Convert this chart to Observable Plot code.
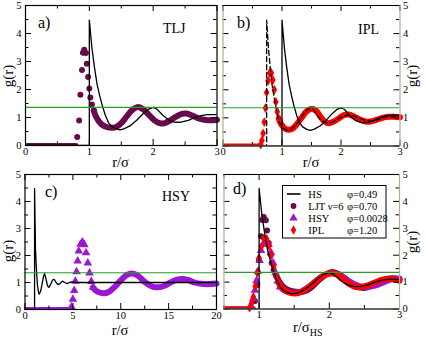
<!DOCTYPE html>
<html><head><meta charset="utf-8">
<script src="https://cdn.jsdelivr.net/npm/d3@7"></script>
<script src="https://cdn.jsdelivr.net/npm/@observablehq/plot@0.6"></script>
<style>
body{margin:0;background:#fff;}
#wrap{position:relative;width:425px;height:337px;overflow:hidden;background:#fff;}
#wrap svg{position:absolute;left:0;top:0;}
#wrap svg text{font-family:'Liberation Serif','Times New Roman',serif !important;}
</style></head><body><div id="wrap"></div>
<script>
// ---------- data ----------
const yDomain = [0, 5];
const yMajor = [0, 1, 2, 3, 4, 5];
const yMinor = [0.5, 1.5, 2.5, 3.5, 4.5];
const greenLevel = [1.36];

// hard spheres (HS), r/sigma
const hsR = [0, 1, 1, 1.04, 1.08, 1.12, 1.16, 1.2, 1.25, 1.3, 1.35, 1.42, 1.48, 1.55, 1.65, 1.75, 1.85, 1.93, 2.0, 2.06, 2.15, 2.25, 2.35, 2.45, 2.55, 2.65, 2.75, 2.85, 3.0];
const hsG = [0, 0, 4.48, 3.5, 2.8, 2.2, 1.8, 1.45, 1.08, 0.82, 0.68, 0.59, 0.56, 0.6, 0.72, 0.92, 1.15, 1.3, 1.36, 1.3, 1.08, 0.9, 0.83, 0.84, 0.9, 1.0, 1.07, 1.1, 1.1];

// panel a: LJT
const ljtZeroR = [0, 0.79];
const zeroG = [0, 0];
const ljtDotR = [0.81, 0.84, 0.86, 0.885, 0.90, 0.92, 0.945, 0.96, 0.98, 1.0, 1.016, 1.04, 1.07];
const ljtDotG = [0.30, 0.89, 1.81, 2.70, 3.31, 3.42, 3.30, 2.92, 2.45, 2.04, 1.71, 1.46, 1.25];
const ljtBandR = [1.07, 1.1, 1.15, 1.2, 1.27, 1.35, 1.42, 1.5, 1.58, 1.66, 1.75, 1.84, 1.93, 2.02, 2.1, 2.17, 2.25, 2.35, 2.45, 2.52, 2.6, 2.7, 2.8, 2.9, 3.0];
const ljtBandG = [1.25, 1.05, 0.86, 0.74, 0.66, 0.63, 0.66, 0.8, 1.02, 1.24, 1.37, 1.3, 1.1, 0.9, 0.8, 0.79, 0.87, 1.02, 1.13, 1.14, 1.08, 0.98, 0.92, 0.9, 0.92];

// panel b: IPL
const iplZeroR = [0, 0.63];
const iplDotR = [0.64, 0.66, 0.68, 0.70, 0.72, 0.74, 0.765, 0.79, 0.82, 0.845, 0.87, 0.895, 0.92, 0.945];
const iplDotG = [0.05, 0.2, 0.45, 0.85, 1.35, 1.9, 2.32, 2.6, 2.6, 2.35, 2.0, 1.57, 1.22, 0.98];
const iplBandR = [0.945, 0.98, 1.02, 1.07, 1.12, 1.18, 1.25, 1.33, 1.42, 1.51, 1.58, 1.66, 1.73, 1.79, 1.87, 1.96, 2.05, 2.13, 2.22, 2.32, 2.42, 2.5, 2.6, 2.7, 2.8, 2.9, 3.0];
const iplBandG = [0.98, 0.8, 0.68, 0.6, 0.58, 0.62, 0.77, 1.0, 1.24, 1.33, 1.25, 1.02, 0.86, 0.81, 0.86, 0.98, 1.1, 1.12, 1.05, 0.94, 0.87, 0.87, 0.93, 1.0, 1.04, 1.04, 1.02];
const dashR = [0, 0.74, 0.74, 0.77, 0.8, 0.83, 0.86, 0.89, 0.925, 0.96, 1.0, 1.05, 1.1, 1.15, 1.22, 1.3, 1.37, 1.43, 1.49, 1.53, 1.6, 1.67, 1.74, 1.81, 1.89, 1.96, 2.04, 2.12, 2.2, 2.3, 2.4, 2.5, 2.6, 2.7, 2.8, 2.9, 3.0];
const dashG = [0, 0, 4.48, 3.5, 2.8, 2.2, 1.8, 1.45, 1.08, 0.82, 0.68, 0.59, 0.56, 0.6, 0.72, 0.92, 1.15, 1.3, 1.35, 1.3, 1.08, 0.9, 0.83, 0.82, 0.88, 0.98, 1.07, 1.1, 1.08, 1.0, 0.92, 0.88, 0.92, 1.0, 1.05, 1.04, 1.02];

// panel c: HSY
const hsCR = [0, 1, 1, 1.1, 1.2, 1.3, 1.42, 1.5, 1.65, 1.8, 1.95, 2.05, 2.2, 2.35, 2.5, 2.7, 2.9, 3.05, 3.25, 3.45, 3.65, 3.9, 4.15, 4.4, 4.65, 4.9, 5.2, 20];
const hsCG = [0, 0, 4.48, 2.2, 1.45, 0.9, 0.62, 0.57, 0.7, 0.98, 1.25, 1.33, 1.12, 0.88, 0.82, 0.95, 1.1, 1.12, 1.0, 0.92, 0.96, 1.05, 1.0, 0.96, 1.0, 1.02, 1.0, 1.0];
const hsyZeroR = [0, 4.8];
const hsyDotR = [4.85, 5.0, 5.14, 5.26, 5.38, 5.5, 5.62, 5.8, 6.0, 6.2, 6.38, 6.56, 6.74, 6.92, 7.1];
const hsyDotG = [0.1, 0.38, 0.7, 1.05, 1.4, 1.8, 2.17, 2.42, 2.5, 2.4, 2.1, 1.72, 1.35, 1.04, 0.82];
const hsyBandR = [7.1, 7.4, 7.8, 8.3, 8.8, 9.4, 10.0, 10.6, 11.2, 11.8, 12.5, 13.2, 13.8, 14.5, 15.2, 15.8, 16.4, 17.0, 17.7, 18.4, 19.2, 20];
const hsyBandG = [0.82, 0.7, 0.63, 0.6, 0.66, 0.85, 1.08, 1.27, 1.33, 1.25, 1.02, 0.86, 0.82, 0.87, 1.0, 1.1, 1.13, 1.1, 1.0, 0.95, 0.94, 0.96];

// panel d: all in r/sigma_HS
const ljtDZeroR = [0.5, 0.92];
const ljtDDotR = [0.94, 0.974, 0.998, 1.027, 1.044, 1.067, 1.096, 1.114, 1.137, 1.16, 1.179, 1.206, 1.241];
const ljtDDotG = [0.30, 0.89, 1.81, 2.70, 3.31, 3.42, 3.30, 2.92, 2.45, 2.04, 1.71, 1.46, 1.25];
const ljtDBandR = [1.241, 1.28, 1.33, 1.39, 1.47, 1.57, 1.65, 1.74, 1.83, 1.93, 2.03, 2.13, 2.24, 2.34, 2.44, 2.52, 2.61, 2.73, 2.84, 2.92, 3.0];
const ljtDBandG = [1.25, 1.05, 0.86, 0.74, 0.66, 0.63, 0.66, 0.8, 1.02, 1.24, 1.37, 1.3, 1.1, 0.9, 0.8, 0.79, 0.87, 1.02, 1.13, 1.14, 1.08];
const hsyDZeroR = [0.5, 0.87];
const hsyDDotR = [0.888, 0.915, 0.941, 0.963, 0.985, 1.007, 1.028, 1.061, 1.098, 1.135, 1.168, 1.2, 1.233, 1.266, 1.3];
const hsyDDotG = [0.1, 0.38, 0.7, 1.05, 1.4, 1.8, 2.17, 2.42, 2.5, 2.4, 2.1, 1.72, 1.35, 1.04, 0.82];
const hsyDBandR = [1.3, 1.354, 1.427, 1.519, 1.61, 1.72, 1.83, 1.94, 2.05, 2.16, 2.29, 2.42, 2.53, 2.65, 2.78, 2.89, 3.0];
const hsyDBandG = [0.82, 0.7, 0.63, 0.6, 0.66, 0.85, 1.08, 1.27, 1.33, 1.25, 1.02, 0.86, 0.82, 0.87, 1.0, 1.1, 1.13];
const iplDZeroR = [0.5, 0.85];
const iplDDotR = [0.864, 0.891, 0.918, 0.945, 0.972, 0.999, 1.033, 1.067, 1.107, 1.141, 1.175, 1.208, 1.242, 1.276];
const iplDDotG = [0.05, 0.2, 0.45, 0.85, 1.35, 1.9, 2.32, 2.6, 2.6, 2.35, 2.0, 1.57, 1.22, 0.98];
const iplDBandR = [1.276, 1.323, 1.377, 1.445, 1.512, 1.593, 1.688, 1.796, 1.917, 2.039, 2.133, 2.241, 2.336, 2.417, 2.525, 2.646, 2.768, 2.876, 3.0];
const iplDBandG = [0.98, 0.8, 0.68, 0.6, 0.58, 0.62, 0.77, 1.0, 1.24, 1.33, 1.25, 1.02, 0.86, 0.81, 0.86, 0.98, 1.1, 1.12, 1.05];

// tick labels
const xTicksA = [0, 1, 2, 3];
const xMinorA = [0.5, 1.5, 2.5];
const xTicksC = [0, 5, 10, 15, 20];
const xMinorC = [2.5, 7.5, 12.5, 17.5];
const xTicksD = [1, 2, 3];
const xMinorD = [0.5, 1.5, 2.5];

// legend
const legendNames = ["HS", "LJT \u03bd=6", "HSY", "IPL"];
const legendPhi = ["\u03c6=0.49", "\u03c6=0.70", "\u03c6=0.0028", "\u03c6=1.20"];

// ---------- drawing ----------
const SERIF = "'Liberation Serif','Times New Roman',serif";
const GREEN = "#22a022", MAROON = "#690a4c", VIOLET = "#9a18d4", RED = "#ff0000", OLIVE = "#b2ad8e";
const wrap = document.getElementById("wrap");
const pts = (rs, gs) => rs.map((r, i) => ({r, g: gs[i]}));
const BAND = 6;

function zeroBand(rs, color) {
  return Plot.line(pts(rs, zeroG), {x: "r", y: "g", stroke: color, strokeWidth: BAND - 1, clip: true});
}
function band(rs, gs, color) {
  return Plot.line(pts(rs, gs), {x: "r", y: "g", stroke: color, strokeWidth: BAND, curve: "catmull-rom", strokeLinecap: "round"});
}
function dots(rs, gs, color, symbol, r) {
  return Plot.dot(pts(rs, gs), {x: "r", y: "g", fill: color, stroke: "none", symbol, r});
}
function blackLine(rs, gs, extra = {}) {
  return Plot.line(pts(rs, gs), {x: "r", y: "g", stroke: "black", strokeWidth: 1.3, clip: true, ...extra});
}

function makePanel(cfg) {
  const W = cfg.right - cfg.left, H = cfg.bottom - cfg.top;
  const MJ = 6, MN = 3.5;
  const marks = [
    ...cfg.marks,
    Plot.ruleY(greenLevel, {y: d => d, stroke: GREEN, strokeWidth: 1.1}),
    Plot.tickX(cfg.xMajor, {x: d => d, insetTop: H - MJ, stroke: "black"}),
    Plot.tickX(cfg.xMajor, {x: d => d, insetBottom: H - MJ, stroke: "black"}),
    Plot.tickX(cfg.xMinor, {x: d => d, insetTop: H - MN, stroke: "black"}),
    Plot.tickX(cfg.xMinor, {x: d => d, insetBottom: H - MN, stroke: "black"}),
    Plot.tickY(yMajor, {y: d => d, insetRight: W - MJ, stroke: "black"}),
    Plot.tickY(yMajor, {y: d => d, insetLeft: W - MJ, stroke: "black"}),
    Plot.tickY(yMinor, {y: d => d, insetRight: W - MN, stroke: "black"}),
    Plot.tickY(yMinor, {y: d => d, insetLeft: W - MN, stroke: "black"}),
    Plot.frame({stroke: cfg.olive ? OLIVE : "black", strokeWidth: 1.2}),
    Plot.ruleY(yDomain, {y: d => d, stroke: "black", strokeWidth: 1.2}),
    Plot.axisX({ticks: cfg.xMajor, tickSize: 0, tickPadding: 2, tickFormat: d => String(d), label: null, fontFamily: SERIF, fontSize: 10.5}),
    Plot.axisY({anchor: cfg.ySide, ticks: yMajor, tickSize: 0, tickPadding: cfg.ySide === "left" ? 4 : 3, tickFormat: d => String(d), label: null, fontFamily: SERIF, fontSize: 10.5})
  ];
  const svg = Plot.plot({
    width: 425, height: 337,
    marginLeft: cfg.left, marginRight: 425 - cfg.right,
    marginTop: cfg.top, marginBottom: 337 - cfg.bottom,
    x: {domain: cfg.xDomain},
    y: {domain: yDomain},
    style: {background: "transparent", overflow: "visible", fontFamily: SERIF, fontSize: "10.5px", color: "black"},
    marks
  });
  svg.setAttribute("font-family", SERIF);
  wrap.appendChild(svg);
  return d3.select(svg);
}

function txt(sel, x, y, s, size, opts = {}) {
  const t = sel.append("text").attr("x", x).attr("y", y)
    .attr("font-family", SERIF).attr("font-size", size).attr("fill", "black")
    .attr("text-anchor", opts.anchor || "start");
  if (opts.rotate) t.attr("transform", `rotate(-90 ${x} ${y})`);
  t.text(s);
  return t;
}

// Panel a
const A = makePanel({
  left: 25, right: 216.5, top: 5, bottom: 145, xDomain: [0, 3], xMajor: xTicksA, xMinor: xMinorA, ySide: "left",
  marks: [
    zeroBand(ljtZeroR, MAROON),
    dots(ljtDotR, ljtDotG, MAROON, "circle", 3),
    band(ljtBandR, ljtBandG, MAROON),
    blackLine(hsR, hsG)
  ]
});
txt(A, 38, 28, "a)", 16);
txt(A, 163, 33, "TLJ", 14);
txt(A, 120.5, 166.5, "r/\u03c3", 14.5, {anchor: "middle"});
txt(A, 13, 76, "g(r)", 15, {anchor: "middle", rotate: true});

// Panel b
const B = makePanel({
  left: 222.5, right: 399.5, top: 5, bottom: 145.5, xDomain: [0, 3], xMajor: xTicksA, xMinor: xMinorA, ySide: "right", olive: true,
  marks: [
    zeroBand(iplZeroR, RED),
    dots(iplDotR, iplDotG, RED, "diamond", 3),
    band(iplBandR, iplBandG, RED),
    blackLine(hsR, hsG),
    blackLine(dashR, dashG, {strokeDasharray: "5,3"})
  ]
});
txt(B, 237, 28, "b)", 16);
txt(B, 358, 34, "IPL", 14);
txt(B, 311, 166.5, "r/\u03c3", 14.5, {anchor: "middle"});
txt(B, 417, 76, "g(r)", 15, {anchor: "middle", rotate: true});

// Panel c
const C = makePanel({
  left: 24.5, right: 216, top: 174, bottom: 309, xDomain: [0, 20], xMajor: xTicksC, xMinor: xMinorC, ySide: "left",
  marks: [
    zeroBand(hsyZeroR, VIOLET),
    dots(hsyDotR, hsyDotG, VIOLET, "triangle", 3.2),
    band(hsyBandR, hsyBandG, VIOLET),
    blackLine(hsCR, hsCG)
  ]
});
txt(C, 45, 197, "c)", 16);
txt(C, 162, 201, "HSY", 14);
txt(C, 120, 334.5, "r/\u03c3", 14.5, {anchor: "middle"});
txt(C, 13, 251, "g(r)", 15, {anchor: "middle", rotate: true});

// Panel d
const D = makePanel({
  left: 223.5, right: 399, top: 174, bottom: 308.5, xDomain: [0.5, 3], xMajor: xTicksD, xMinor: xMinorD, ySide: "right", olive: true,
  marks: [
    zeroBand(ljtDZeroR, MAROON),
    zeroBand(hsyDZeroR, VIOLET),
    zeroBand(iplDZeroR, RED),
    dots(ljtDDotR, ljtDDotG, MAROON, "circle", 3),
    band(ljtDBandR, ljtDBandG, MAROON),
    dots(hsyDDotR, hsyDDotG, VIOLET, "triangle", 3.2),
    band(hsyDBandR, hsyDBandG, VIOLET),
    dots(iplDDotR, iplDDotG, RED, "diamond", 3),
    band(iplDBandR, iplDBandG, RED),
    blackLine(hsR, hsG)
  ]
});
txt(D, 233, 194, "d)", 16);
const dl = txt(D, 293, 332, "r/\u03c3", 14.5);
dl.append("tspan").attr("font-size", 10).attr("dy", 3.5).text("HS");
txt(D, 417, 242, "g(r)", 15, {anchor: "middle", rotate: true});

// Legend (panel d)
const lg = d3.select(wrap).append("svg").attr("width", 425).attr("height", 337);
lg.append("rect").attr("x", 282.5).attr("y", 185.5).attr("width", 103.5).attr("height", 52.5)
  .attr("fill", "white").attr("stroke", "black").attr("stroke-width", 1);
const legColors = ["black", MAROON, VIOLET, RED];
const legSymbols = [null, d3.symbolCircle, d3.symbolTriangle, d3.symbolDiamond];
legendNames.forEach((name, i) => {
  const yb = 197.5 + i * 12;
  const yc = yb - 3.5;
  if (i === 0) {
    lg.append("line").attr("x1", 287).attr("x2", 300.5).attr("y1", yc).attr("y2", yc)
      .attr("stroke", "black").attr("stroke-width", 1.6);
  } else {
    lg.append("path").attr("d", d3.symbol(legSymbols[i], i === 2 ? 30 : 26)())
      .attr("transform", `translate(293.5,${yc})`).attr("fill", legColors[i]);
  }
  txt(lg, 308.3, yb, name, 10.5);
  txt(lg, 347, yb, legendPhi[i], 10.5).attr("fill", "#000");
});
</script></body></html>
